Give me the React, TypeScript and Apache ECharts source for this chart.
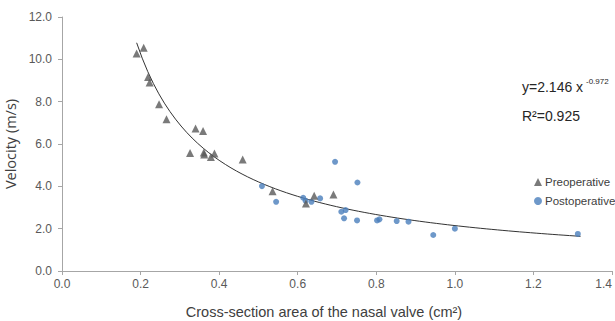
import React, { useEffect, useRef } from "react";
import * as echarts from "echarts";

// Preoperative measurements: [area cm², velocity m/s]
const preX = [0.19, 0.208, 0.219, 0.223, 0.247, 0.266, 0.34, 0.359, 0.326, 0.361, 0.362, 0.379, 0.388, 0.46, 0.536, 0.621, 0.642, 0.691];
const preY = [10.27, 10.55, 9.17, 8.9, 7.88, 7.17, 6.73, 6.62, 5.58, 5.6, 5.5, 5.39, 5.55, 5.27, 3.77, 3.19, 3.55, 3.62];

// Postoperative measurements
const postX = [0.509, 0.545, 0.614, 0.62, 0.635, 0.657, 0.695, 0.711, 0.722, 0.718, 0.752, 0.751, 0.802, 0.808, 0.852, 0.882, 0.945, 1.0, 1.313];
const postY = [4.01, 3.27, 3.46, 3.32, 3.27, 3.43, 5.16, 2.8, 2.88, 2.49, 4.18, 2.39, 2.39, 2.44, 2.36, 2.33, 1.7, 2.0, 1.75];

// Power trendline shown on the chart: y = a * x^b
const trendA = 2.146;
const trendB = -0.972;
const trendRange = [0.19, 1.32];

const xTicks = ["0.0", "0.2", "0.4", "0.6", "0.8", "1.0", "1.2", "1.4"];
const yTicks = ["0.0", "2.0", "4.0", "6.0", "8.0", "10.0", "12.0"];

export default function App() {
  const ref = useRef<HTMLDivElement>(null);
  useEffect(() => {
    if (!ref.current) return;
    const chart = echarts.init(ref.current, null, { renderer: "svg" });
    const trend: number[][] = [];
    const steps = 80;
    for (let i = 0; i <= steps; i++) {
      const x = trendRange[0] + ((trendRange[1] - trendRange[0]) * i) / steps;
      trend.push([x, trendA * Math.pow(x, trendB)]);
    }
    const font = "'Liberation Sans', Arial, sans-serif";
    const font2 = "'Open Sans', 'Noto Sans', sans-serif";
    chart.setOption({
      animation: false,
      textStyle: { fontFamily: font },
      grid: { left: 62, right: 3, top: 17, bottom: 50, containLabel: false, outerBoundsMode: "none" },
      xAxis: {
        type: "value",
        min: 0,
        max: 1.4,
        interval: 0.2,
        name: "Cross-section area of the nasal valve (cm²)",
        nameLocation: "middle",
        nameGap: 33,
        nameTextStyle: { fontSize: 14.5, color: "#404040", fontFamily: font, padding: [0, 26, 0, 0] },
        axisLine: { show: true, lineStyle: { color: "#a6a6a6" } },
        axisTick: { show: true, length: 4, lineStyle: { color: "#a6a6a6" } },
        axisLabel: {
          fontSize: 12,
          color: "#595959",
          margin: 7,
          alignMaxLabel: "right",
          formatter: (v: number) => xTicks[Math.round(v / 0.2)] ?? v.toFixed(1),
        },
        splitLine: { show: false },
      },
      yAxis: {
        type: "value",
        min: 0,
        max: 12,
        interval: 2,
        name: "Velocity (m/s)",
        nameLocation: "middle",
        nameGap: 29,
        nameTextStyle: { fontSize: 14.5, color: "#404040", fontFamily: font2 },
        axisLine: { show: true, lineStyle: { color: "#a6a6a6" } },
        axisTick: { show: true, length: 4, lineStyle: { color: "#a6a6a6" } },
        axisLabel: {
          fontSize: 12,
          color: "#595959",
          margin: 10,
          formatter: (v: number) => yTicks[Math.round(v / 2)] ?? v.toFixed(1),
        },
        splitLine: { show: false },
      },
      legend: {
        orient: "vertical",
        left: 534,
        top: 176,
        padding: 0,
        itemWidth: 8,
        itemHeight: 8,
        itemGap: 7,
        textStyle: { fontSize: 11.5, color: "#404040", fontFamily: font, padding: [0, 0, 0, -2] },
        data: [
          { name: "Preoperative", icon: "triangle" },
          { name: "Postoperative", icon: "circle" },
        ],
      },
      graphic: [
        {
          type: "text",
          left: 522,
          top: 80,
          style: { text: "y=2.146 x", fontSize: 14, fill: "#262626", fontFamily: font },
        },
        {
          type: "text",
          left: 586,
          top: 77,
          style: { text: "-0.972", fontSize: 8, fill: "#262626", fontFamily: font },
        },
        {
          type: "text",
          left: 522,
          top: 109,
          style: { text: "R²=0.925", fontSize: 14, fill: "#262626", fontFamily: font },
        },
      ],
      series: [
        {
          name: "Trend",
          type: "line",
          data: trend,
          showSymbol: false,
          symbol: "none",
          lineStyle: { color: "#333333", width: 1 },
          silent: true,
          z: 1,
        },
        {
          name: "Preoperative",
          type: "scatter",
          symbol: "triangle",
          symbolSize: 8,
          itemStyle: { color: "#595959" },
          data: preX.map((x, i) => [x, preY[i]]),
          z: 3,
        },
        {
          name: "Postoperative",
          type: "scatter",
          symbol: "circle",
          symbolSize: 6,
          itemStyle: { color: "#4a7ebb" },
          data: postX.map((x, i) => [x, postY[i]]),
          z: 2,
        },
      ],
    });
    return () => chart.dispose();
  }, []);
  return (
    <div
      ref={ref}
      style={{ position: "fixed", left: 0, top: 0, width: 615, height: 321, background: "#ffffff" }}
    />
  );
}
